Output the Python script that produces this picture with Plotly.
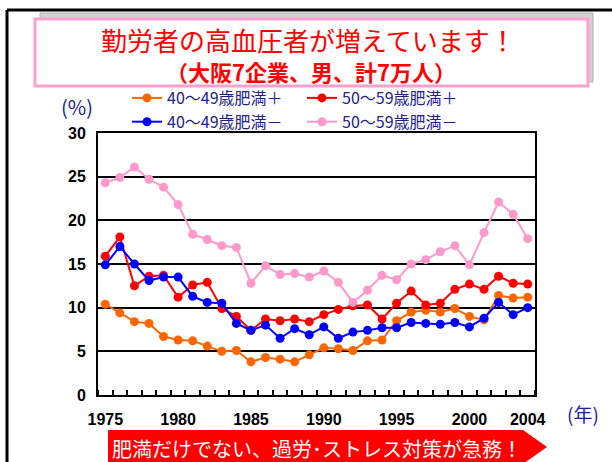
import plotly.graph_objects as go

# --- DATA ---
years = list(range(1975, 2005))

age40_obese_plus = [10.4, 9.4, 8.4, 8.2, 6.7, 6.3, 6.2, 5.6, 5.0, 5.1, 3.8, 4.3, 4.1, 3.8, 4.6,
                    5.4, 5.3, 5.1, 6.2, 6.3, 8.5, 9.5, 9.7, 9.5, 9.9, 9.0, 8.6, 11.4, 11.1, 11.2]
age50_obese_plus = [15.9, 18.1, 12.5, 13.6, 13.7, 11.2, 12.6, 12.9, 9.9, 9.0, 7.4, 8.7, 8.5, 8.7, 8.4,
                    9.2, 9.8, 10.2, 10.3, 8.7, 10.5, 11.9, 10.3, 10.5, 12.1, 12.7, 12.1, 13.6, 12.8, 12.7]
age40_obese_minus = [14.9, 17.0, 15.0, 13.1, 13.5, 13.5, 11.3, 10.6, 10.5, 8.2, 7.4, 8.0, 6.5, 7.6, 6.9,
                     7.8, 6.5, 7.2, 7.4, 7.7, 7.7, 8.3, 8.2, 8.1, 8.3, 7.8, 8.8, 10.6, 9.2, 10.0]
age50_obese_minus = [24.3, 24.9, 26.1, 24.7, 23.8, 21.8, 18.4, 17.8, 17.1, 16.9, 12.8, 14.8, 13.8, 13.9, 13.5,
                     14.2, 12.9, 10.6, 12.0, 13.7, 13.2, 15.0, 15.5, 16.4, 17.1, 14.9, 18.6, 22.1, 20.7, 17.9]

series_names = ["40～49歳肥満＋", "50～59歳肥満＋", "40～49歳肥満－", "50～59歳肥満－"]
series_colors = ["#ff6600", "#ff0000", "#0000ff", "#ff99cc"]

x_label_years = [1975, 1980, 1985, 1990, 1995, 2000, 2004]
y_ticks = [0, 5, 10, 15, 20, 25, 30]

title_line1 = "勤労者の高血圧者が増えています！"
title_line2 = "（大阪7企業、男、計7万人）"
banner_text = "肥満だけでない、過労･ストレス対策が急務！"

# plot area in pixels
L, R, T, B = 98, 535, 133, 395
W, H = 612, 462


def px(x):
    return (x - L) / (R - L)


def py(y):
    return (B - y) / (B - T)


JP = "Noto Sans CJK JP"
NAVY = "#22228c"

fig = go.Figure()

series = [age40_obese_plus, age50_obese_plus, age40_obese_minus, age50_obese_minus]
for name, vals, col in zip(series_names, series, series_colors):
    fig.add_trace(go.Scatter(
        x=years, y=vals, name=name, mode="lines+markers",
        line=dict(color=col, width=2),
        marker=dict(color=col, size=9),
    ))

fig.update_layout(
    width=W, height=H,
    margin=dict(l=L, r=W - R, t=T, b=H - B),
    paper_bgcolor="white", plot_bgcolor="white",
    showlegend=True,
    legend=dict(
        orientation="h", x=px(127), y=py(81), xanchor="left", yanchor="top",
        xref="paper", yref="paper",
        entrywidth=130, traceorder="normal",
        font=dict(family=JP, size=16, color=NAVY),
        bgcolor="rgba(0,0,0,0)",
    ),
    xaxis=dict(
        range=[1974.5, 2004.5],
        tickmode="array", tickvals=x_label_years, ticktext=[str(y) for y in x_label_years],
        ticks="", showgrid=False, zeroline=False,
        showline=True, linecolor="black", linewidth=2, mirror=True,
        tickfont=dict(family="Liberation Sans", size=16, color="black", weight=700),
        ticklabelstandoff=9,
        minor=dict(tick0=1974.5, dtick=1, ticks="inside", ticklen=5,
                   tickcolor="black", tickwidth=1.5, showgrid=False),
    ),
    yaxis=dict(
        range=[0, 30], tickmode="array", tickvals=y_ticks,
        ticks="", showgrid=True, gridcolor="black", gridwidth=1.5, zeroline=False,
        showline=True, linecolor="black", linewidth=2, mirror=True,
        tickfont=dict(family="Liberation Sans", size=16, color="black", weight=700),
        ticklabelstandoff=7,
    ),
)

shapes = []
# outer frame (top and left)
shapes.append(dict(type="line", xref="paper", yref="paper", x0=px(7), x1=px(612), y0=py(10), y1=py(10),
                   line=dict(color="black", width=3)))
shapes.append(dict(type="line", xref="paper", yref="paper", x0=px(7), x1=px(7), y0=py(10), y1=py(462),
                   line=dict(color="black", width=3)))
# shadow box behind title
shapes.append(dict(type="rect", xref="paper", yref="paper", x0=px(40), x1=px(593), y0=py(13), y1=py(82),
                   fillcolor="#d2d2d2", line=dict(color="#b0b0b0", width=1), layer="above"))
# pink title box
shapes.append(dict(type="rect", xref="paper", yref="paper", x0=px(35), x1=px(588), y0=py(19), y1=py(86),
                   fillcolor="white", line=dict(color="#ff9fcf", width=3), layer="above"))
# red arrow banner
pts = [(108, 430), (523, 430), (547, 447), (523, 464), (108, 464)]
path = "M " + " L ".join(f"{px(a)},{py(b)}" for a, b in pts) + " Z"
shapes.append(dict(type="path", xref="paper", yref="paper", path=path,
                   fillcolor="#ff0000", line=dict(width=0), layer="above"))
fig.update_layout(shapes=shapes)

annotations = [
    dict(text=title_line1, x=px(308), y=py(40), font=dict(family=JP, size=26, color="#ff0000")),
    dict(text="<b>" + title_line2 + "</b>", x=px(311), y=py(71), font=dict(family=JP, size=22, color="#ff0000")),
    dict(text="(%)", x=px(77), y=py(107), font=dict(family=JP, size=20, color=NAVY)),
    dict(text="(年)", x=px(583), y=py(413), font=dict(family=JP, size=19, color=NAVY)),
    dict(text=banner_text, x=px(110), y=py(448), xanchor="left",
         font=dict(family=JP, size=20, color="white")),
]
for a in annotations:
    a.setdefault("xanchor", "center")
    a.update(xref="paper", yref="paper", yanchor="middle", showarrow=False)
fig.update_layout(annotations=annotations)

# page body margin would shift the figure by 8px
fig.write_html("out.html", config={"displayModeBar": False},
               post_script="document.body.style.margin='0';")
